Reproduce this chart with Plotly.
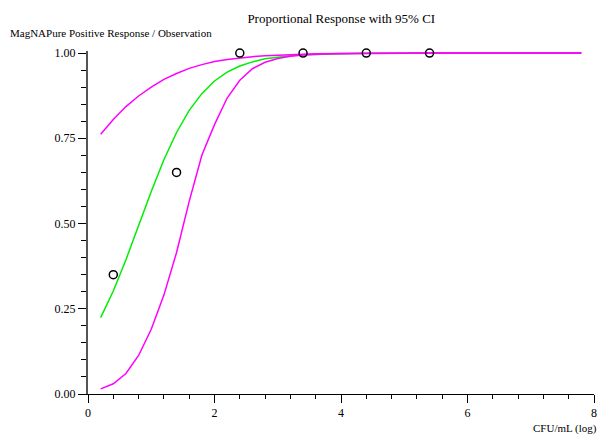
import plotly.graph_objects as go

# ---- data ----
dose_log = [0.2, 0.4, 0.6, 0.8, 1.0, 1.2, 1.4, 1.6, 1.8, 2.0,
            2.2, 2.4, 2.6, 2.8, 3.0, 3.2, 3.4, 3.6, 3.8, 4.0,
            4.2, 4.4, 4.6, 4.8, 5.0, 5.2, 5.4, 5.6, 5.8, 6.0,
            6.2, 6.4, 6.6, 6.8, 7.0, 7.2, 7.4, 7.6, 7.8]

fit_response = [0.224, 0.302, 0.394, 0.494, 0.594, 0.687, 0.767, 0.832, 0.881, 0.918,
                0.944, 0.962, 0.974, 0.983, 0.988, 0.992, 0.995, 0.9965, 0.9977, 0.9985,
                0.9990, 0.9994, 0.9996, 0.9997, 0.9998, 0.9999, 0.9999, 0.9999, 1.0, 1.0,
                1.0, 1.0, 1.0, 1.0, 1.0, 1.0, 1.0, 1.0, 1.0]

ci_lower = [0.015, 0.030, 0.060, 0.113, 0.190, 0.290, 0.415, 0.565, 0.700, 0.790,
            0.868, 0.920, 0.954, 0.973, 0.984, 0.9905, 0.9945, 0.9967, 0.998, 0.9988,
            0.9992, 0.9995, 0.9997, 0.9998, 0.9999, 0.9999, 1.0, 1.0, 1.0, 1.0,
            1.0, 1.0, 1.0, 1.0, 1.0, 1.0, 1.0, 1.0, 1.0]

ci_upper = [0.762, 0.805, 0.843, 0.874, 0.900, 0.923, 0.940, 0.955, 0.966, 0.975,
            0.981, 0.986, 0.9895, 0.9922, 0.9942, 0.9957, 0.9968, 0.9976, 0.9982, 0.9987,
            0.9991, 0.9993, 0.9995, 0.9996, 0.9997, 0.9998, 0.9998, 0.9999, 0.9999, 1.0,
            1.0, 1.0, 1.0, 1.0, 1.0, 1.0, 1.0, 1.0, 1.0]

obs_x = [0.4, 1.4, 2.4, 3.4, 4.4, 5.4]
obs_y = [0.35, 0.65, 1.0, 1.0, 1.0, 1.0]

x_ticks = [0, 2, 4, 6, 8]
y_ticks = [0.0, 0.25, 0.5, 0.75, 1.0]

FONT = "Liberation Serif"
MAGENTA = "#ff00ff"
GREEN = "#00ee00"

fig = go.Figure()
fig.add_trace(go.Scatter(x=dose_log, y=fit_response, mode="lines",
                         line=dict(color=GREEN, width=1.5), cliponaxis=False,
                         showlegend=False))
fig.add_trace(go.Scatter(x=dose_log, y=ci_lower, mode="lines",
                         line=dict(color=MAGENTA, width=1.5), cliponaxis=False,
                         showlegend=False))
fig.add_trace(go.Scatter(x=dose_log, y=ci_upper, mode="lines",
                         line=dict(color=MAGENTA, width=1.5), cliponaxis=False,
                         showlegend=False))
fig.add_trace(go.Scatter(x=obs_x, y=obs_y, mode="markers", cliponaxis=False,
                         marker=dict(symbol="circle-open", size=8,
                                     color="black", line=dict(width=1.5)),
                         showlegend=False))

fig.update_layout(
    width=604, height=437,
    margin=dict(l=88, r=7, t=51, b=43),
    paper_bgcolor="white", plot_bgcolor="white",
    font=dict(family=FONT, size=11, color="black"),
    title=dict(text="Proportional Response with 95% CI", x=0.565, xanchor="center",
               y=0.958, yanchor="middle", font=dict(family=FONT, size=13, color="black")),
    xaxis=dict(range=[0, 8], tickvals=x_ticks, ticktext=[str(v) for v in x_ticks],
               showgrid=False, zeroline=False, showline=True, linecolor="black",
               linewidth=1, ticks="outside", ticklen=8, tickwidth=1,
               tickcolor="black",
               minor=dict(dtick=0.4, tick0=0, ticks="outside", ticklen=4,
                          tickwidth=1, tickcolor="black", showgrid=False),
               tickfont=dict(family=FONT, size=12, color="black")),
    yaxis=dict(range=[0, 1.006], tickvals=y_ticks, ticktext=[f"{v:.2f}" for v in y_ticks],
               showgrid=False, zeroline=False, showline=True, linecolor="#555555",
               linewidth=2, ticks="outside", ticklen=8, tickwidth=1,
               tickcolor="black",
               minor=dict(dtick=0.05, tick0=0, ticks="outside", ticklen=5,
                          tickwidth=1, tickcolor="black", showgrid=False),
               tickfont=dict(family=FONT, size=12, color="black")),
    annotations=[
        dict(text="MagNAPure Positive Response / Observation", xref="paper", yref="paper",
             x=-0.158, y=1.03, xanchor="left", yanchor="bottom", showarrow=False,
             font=dict(family=FONT, size=11, color="black")),
        dict(text="CFU/mL (log)", xref="paper", yref="paper",
             x=1.01, y=-0.075, xanchor="right", yanchor="top", showarrow=False,
             font=dict(family=FONT, size=11, color="black")),
    ],
)

fig.write_html("out.html")
